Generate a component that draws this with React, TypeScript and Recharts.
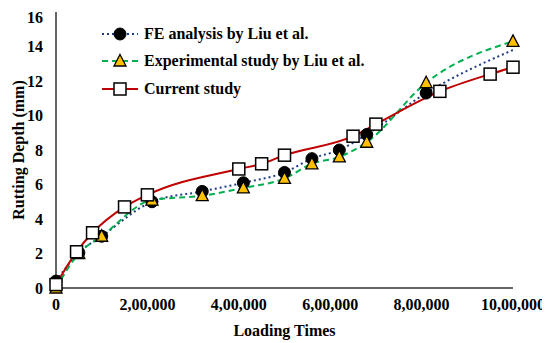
import React from 'react';
import { LineChart, Line, XAxis, YAxis, Legend } from 'recharts';

// FE analysis by Liu et al.
const feLoads = [0, 50000, 100000, 210000, 320000, 410000, 500000, 560000, 620000, 680000, 810000, 1000000];
const feDepth = [0.4, 2.05, 3.0, 5.0, 5.6, 6.1, 6.7, 7.5, 8.0, 8.9, 11.3, 13.8];

// Experimental study by Liu et al.
const expLoads = [0, 50000, 100000, 210000, 320000, 410000, 500000, 560000, 620000, 680000, 810000, 1000000];
const expDepth = [0, 2.0, 3.0, 5.1, 5.35, 5.8, 6.35, 7.2, 7.6, 8.45, 11.9, 14.3];

// Current study
const curLoads = [0, 45000, 80000, 150000, 200000, 400000, 450000, 500000, 650000, 700000, 840000, 950000, 1000000];
const curDepth = [0.2, 2.1, 3.2, 4.7, 5.4, 6.9, 7.2, 7.7, 8.8, 9.5, 11.4, 12.4, 12.8];

const xTicks = [0, 200000, 400000, 600000, 800000, 1000000];
const yTicks = [0, 2, 4, 6, 8, 10, 12, 14, 16];

const feData = feLoads.map((x, i) => ({ x, y: feDepth[i] }));
const expData = expLoads.map((x, i) => ({ x, y: expDepth[i] }));
const curData = curLoads.map((x, i) => ({ x, y: curDepth[i] }));

const FONT = '"Liberation Serif", "Times New Roman", serif';
const BLUE = '#1F3C88';
const GREEN = '#00B050';
const RED = '#C00000';
const GOLD = '#FFC000';

// Indian digit grouping: 2,00,000 / 10,00,000
const indianFormat = (v: number) => {
  const s = String(Math.round(v));
  if (s.length <= 3) return s;
  const last3 = s.slice(-3);
  let rest = s.slice(0, -3);
  const parts: string[] = [];
  while (rest.length > 2) {
    parts.unshift(rest.slice(-2));
    rest = rest.slice(0, -2);
  }
  if (rest) parts.unshift(rest);
  return parts.join(',') + ',' + last3;
};

const Circle = ({ cx, cy }: { cx: number; cy: number }) => (
  <circle cx={cx} cy={cy} r={6} fill="#000" stroke="#000" strokeWidth={1} />
);
const Triangle = ({ cx, cy }: { cx: number; cy: number }) => (
  <polygon
    points={`${cx},${cy - 6.5} ${cx + 6},${cy + 5} ${cx - 6},${cy + 5}`}
    fill={GOLD}
    stroke="#000"
    strokeWidth={1.3}
  />
);
const Square = ({ cx, cy }: { cx: number; cy: number }) => (
  <rect x={cx - 6} y={cy - 6} width={12} height={12} fill="#fff" stroke="#000" strokeWidth={1.5} />
);

const legendRows = [
  { label: 'FE analysis by Liu et al.', color: BLUE, dash: '2 3', Mark: Circle },
  { label: 'Experimental study by Liu et al.', color: GREEN, dash: '6 4', Mark: Triangle },
  { label: 'Current study', color: RED, dash: undefined, Mark: Square },
];

const renderLegend = () => (
  <div style={{ fontFamily: FONT, fontWeight: 'bold', fontSize: 16, color: '#000' }}>
    {legendRows.map(({ label, color, dash, Mark }) => (
      <div key={label} style={{ display: 'flex', alignItems: 'center', height: 27.5 }}>
        <svg width={40} height={16} style={{ marginRight: 4 }}>
          <line x1={2} y1={8} x2={38} y2={8} stroke={color} strokeWidth={2} strokeDasharray={dash} />
          <Mark cx={20} cy={8} />
        </svg>
        <span>{label}</span>
      </div>
    ))}
  </div>
);

const tickStyle = { fontFamily: FONT, fontWeight: 'bold' as const, fontSize: 16, fill: '#000' };

export default function App() {
  return (
    <LineChart width={542} height={335} margin={{ top: 4, right: 37, bottom: 0, left: 0 }}>
      <XAxis
        dataKey="x"
        type="number"
        domain={[0, 1000000]}
        ticks={xTicks}
        tickFormatter={indianFormat}
        allowDuplicatedCategory={false}
        tickLine={false}
        tickMargin={5}
        height={55}
        tick={tickStyle}
        axisLine={{ stroke: '#333', strokeWidth: 1.5 }}
        label={{ value: 'Loading Times', position: 'insideBottom', offset: 7, style: { ...tickStyle, fontSize: 16 } }}
      />
      <XAxis xAxisId="top" orientation="top" type="number" domain={[0, 1000000]} height={0} tick={false} tickLine={false} axisLine={{ stroke: '#333', strokeWidth: 1.5 }} />
      <YAxis
        type="number"
        domain={[0, 16]}
        ticks={yTicks}
        tickLine={false}
        tickMargin={7}
        width={48}
        tick={tickStyle}
        axisLine={{ stroke: '#333', strokeWidth: 1.5 }}
        label={{ value: 'Rutting Depth (mm)', angle: -90, position: 'insideLeft', offset: 10, style: { ...tickStyle, textAnchor: 'middle' } }}
      />
      <YAxis yAxisId="right" orientation="right" domain={[0, 16]} width={0} tick={false} tickLine={false} axisLine={{ stroke: '#333', strokeWidth: 1.5 }} />
      <Legend
        layout="vertical"
        align="center"
        verticalAlign="middle"
        content={renderLegend}
        wrapperStyle={{ top: 12, left: 92, width: 'auto', height: 'auto' }}
      />
      <Line
        data={feData}
        dataKey="y"
        type="monotone"
        stroke={BLUE}
        strokeWidth={2}
        strokeDasharray="2 3"
        isAnimationActive={false}
        dot={(p: any) =>
          p.index === feData.length - 1 ? <g key={`fe-${p.index}`} /> : <Circle key={`fe-${p.index}`} cx={p.cx} cy={p.cy} />
        }
      />
      <Line
        data={expData}
        dataKey="y"
        type="monotone"
        stroke={GREEN}
        strokeWidth={2}
        strokeDasharray="6 4"
        isAnimationActive={false}
        dot={(p: any) => <Triangle key={`ex-${p.index}`} cx={p.cx} cy={p.cy} />}
      />
      <Line
        data={curData}
        dataKey="y"
        type="monotone"
        stroke={RED}
        strokeWidth={2}
        isAnimationActive={false}
        dot={(p: any) => <Square key={`cu-${p.index}`} cx={p.cx} cy={p.cy} />}
      />
    </LineChart>
  );
}
